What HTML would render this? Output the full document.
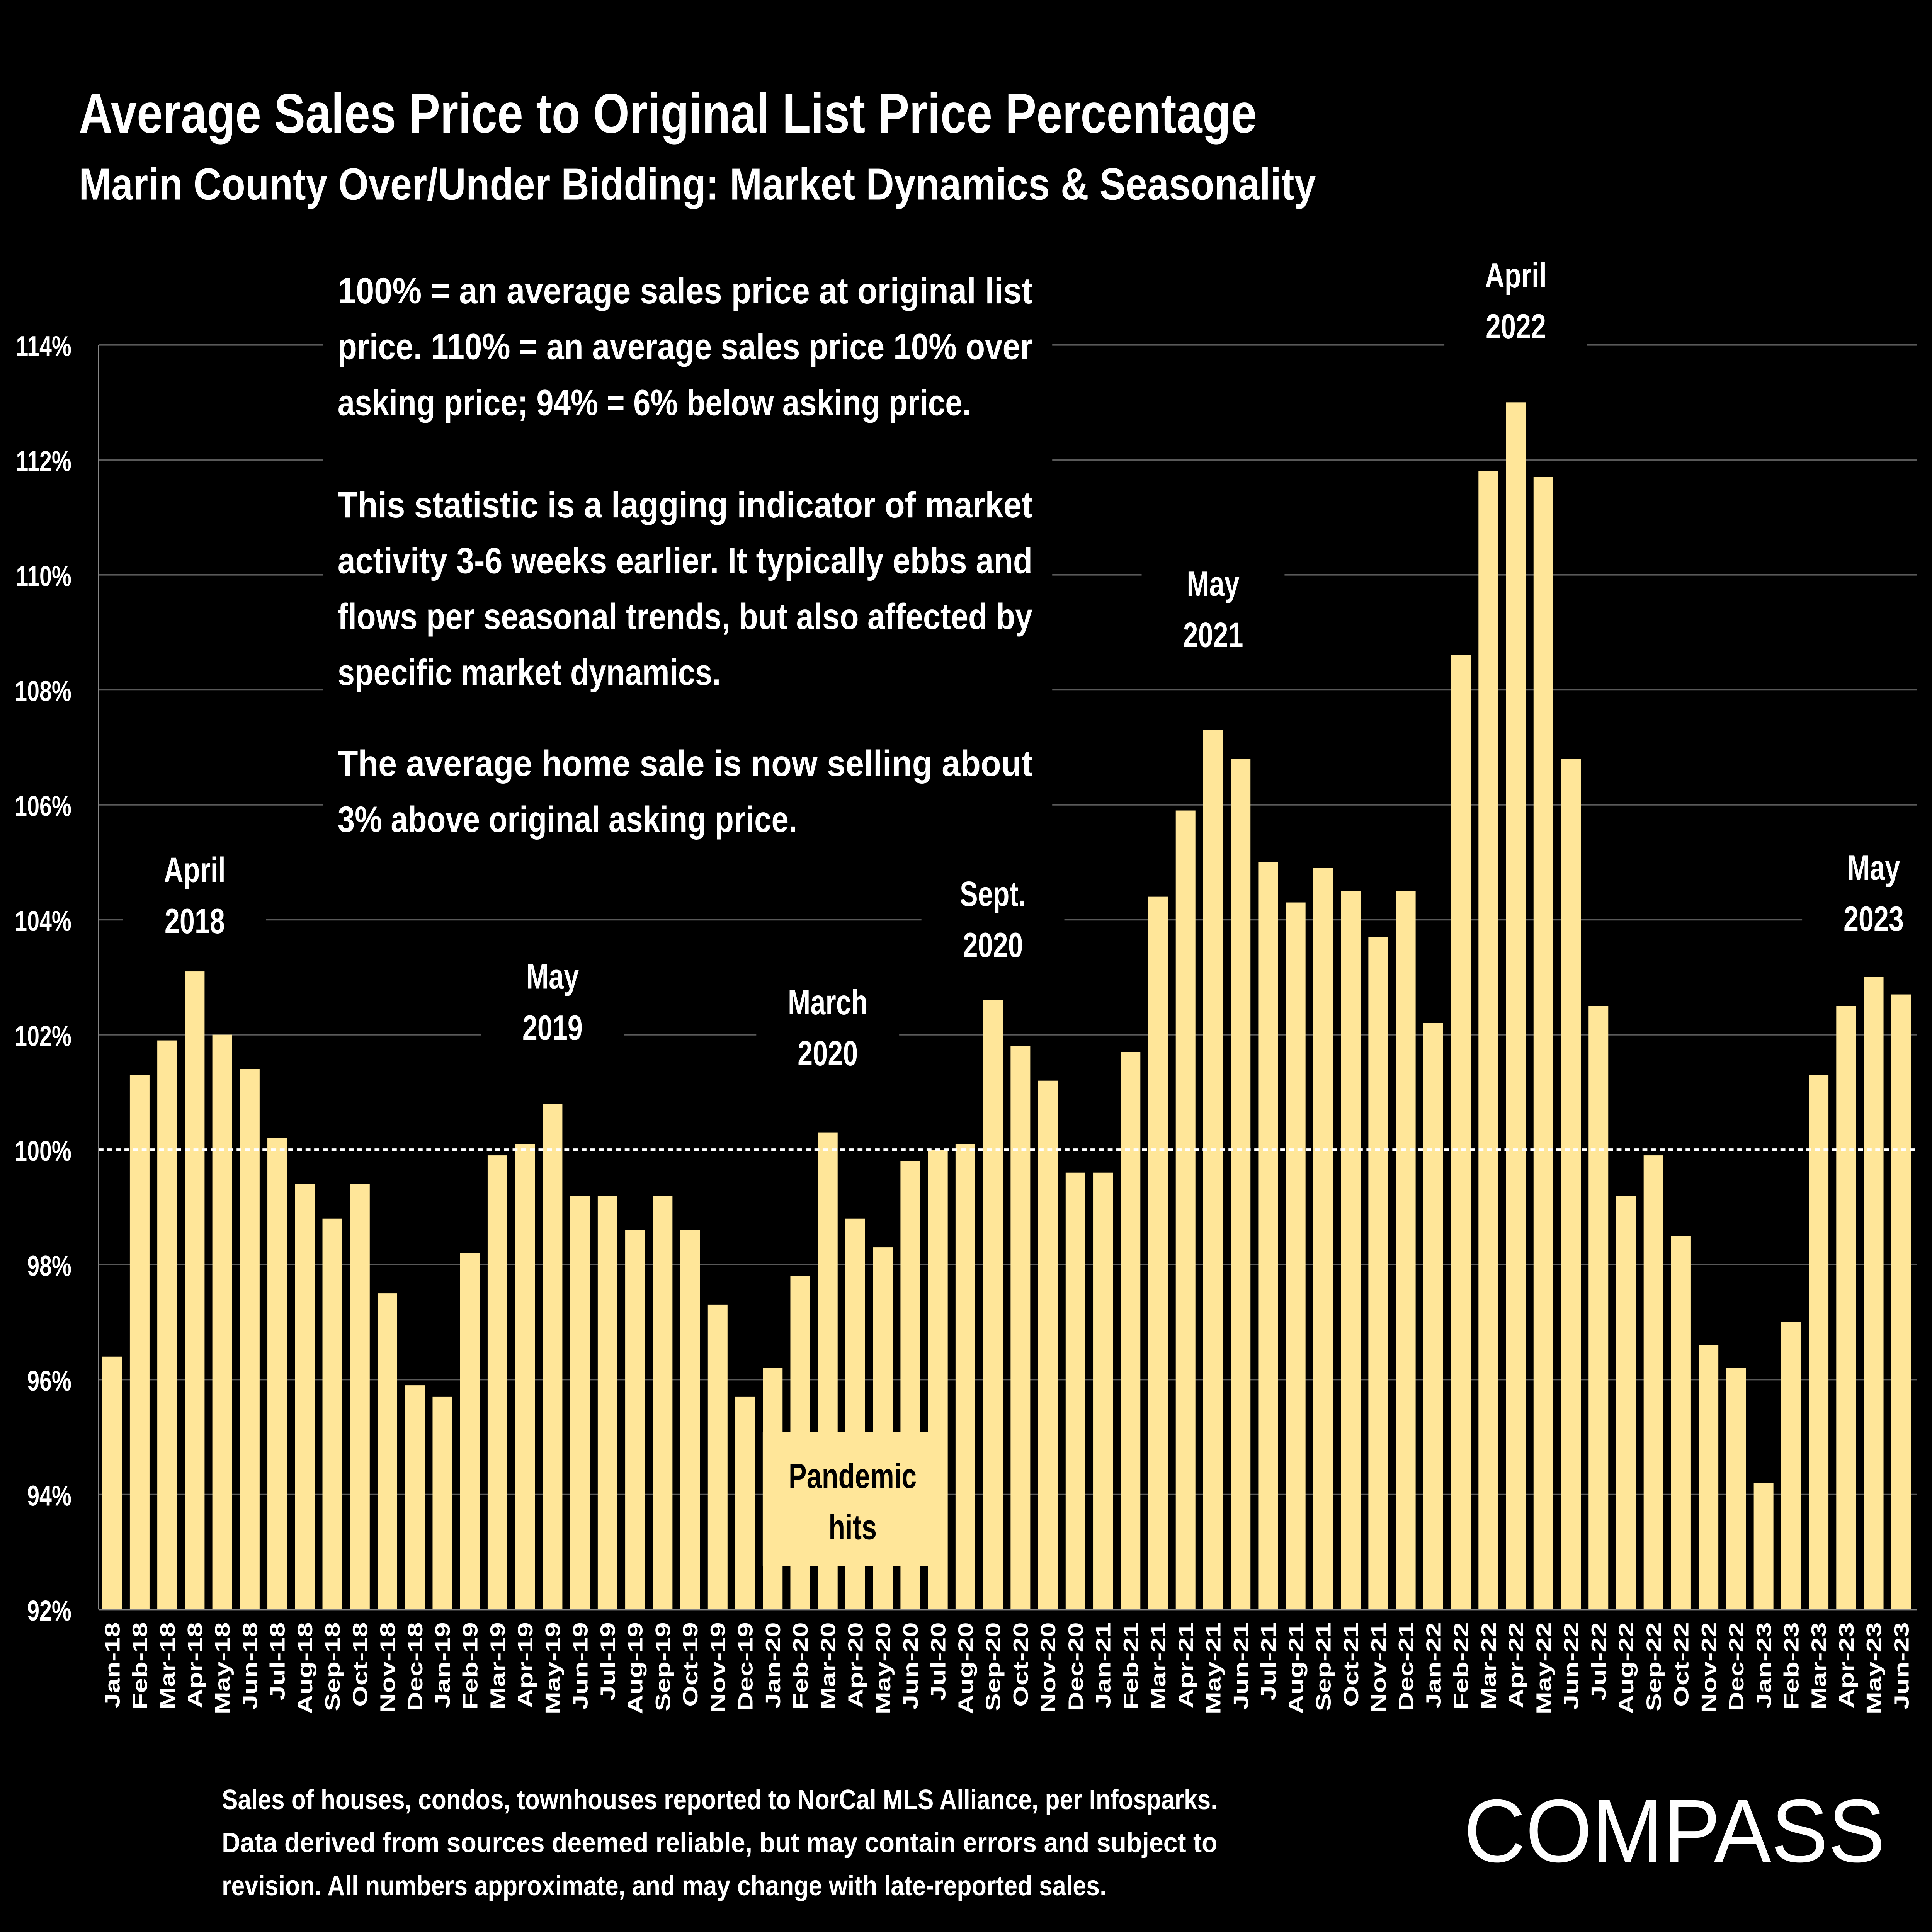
<!DOCTYPE html>
<html><head><meta charset="utf-8"><style>
html,body{margin:0;padding:0;background:#000;overflow:hidden;width:100vw;height:100vh;}
svg{display:block;width:100vw;height:100vh;}
text{font-family:"Liberation Sans",sans-serif;fill:#fff;font-weight:bold;}
</style></head><body>
<svg id="chart" viewBox="0 0 1568 1210" preserveAspectRatio="none" xmlns="http://www.w3.org/2000/svg">
<rect width="1568" height="1210" fill="#000"/>
<text x="64" y="83" font-size="35" textLength="956" lengthAdjust="spacingAndGlyphs">Average Sales Price to Original List Price Percentage</text>
<text x="64" y="125" font-size="28" textLength="1004" lengthAdjust="spacingAndGlyphs">Marin County Over/Under Bidding: Market Dynamics &amp; Seasonality</text>
<g id="grid"></g>
<g id="yaxis"></g>
<g id="bars"></g>
<g id="xaxis"></g>
<g>
<rect x="262" y="160" width="592" height="378" fill="#000"/>
<g font-size="23">
<text x="274" y="190" textLength="564" lengthAdjust="spacingAndGlyphs">100% = an average sales price at original list</text>
<text x="274" y="225" textLength="564" lengthAdjust="spacingAndGlyphs">price. 110% = an average sales price 10% over</text>
<text x="274" y="260" textLength="514" lengthAdjust="spacingAndGlyphs">asking price; 94% = 6% below asking price.</text>
<text x="274" y="324" textLength="564" lengthAdjust="spacingAndGlyphs">This statistic is a lagging indicator of market</text>
<text x="274" y="359" textLength="564" lengthAdjust="spacingAndGlyphs">activity 3-6 weeks earlier. It typically ebbs and</text>
<text x="274" y="394" textLength="564" lengthAdjust="spacingAndGlyphs">flows per seasonal trends, but also affected by</text>
<text x="274" y="429" textLength="311" lengthAdjust="spacingAndGlyphs">specific market dynamics.</text>
<text x="274" y="486" textLength="564" lengthAdjust="spacingAndGlyphs">The average home sale is now selling about</text>
<text x="274" y="521" textLength="373" lengthAdjust="spacingAndGlyphs">3% above original asking price.</text>
</g></g>
<g id="annos"></g>
<g>
<rect x="619" y="897" width="150" height="84" fill="#FFE699"/>
<text x="692" y="932" font-size="22" text-anchor="middle" style="fill:#000">Pandemic</text>
<text x="692" y="964" font-size="22" text-anchor="middle" style="fill:#000">hits</text>
</g>
<g font-size="17.5">
<text x="180" y="1133" textLength="808" lengthAdjust="spacingAndGlyphs">Sales of houses, condos, townhouses reported to NorCal MLS Alliance, per Infosparks.</text>
<text x="180" y="1160" textLength="808" lengthAdjust="spacingAndGlyphs">Data derived from sources deemed reliable, but may contain errors and subject to</text>
<text x="180" y="1187" textLength="718" lengthAdjust="spacingAndGlyphs">revision. All numbers approximate, and may change with late-reported sales.</text>
</g>
<text x="1188" y="1166" font-size="56" textLength="342" lengthAdjust="spacingAndGlyphs" style="font-weight:normal">COMPASS</text>
</svg>
<script>
const months = ["Jan","Feb","Mar","Apr","May","Jun","Jul","Aug","Sep","Oct","Nov","Dec"];
const years = ["18","19","20","21","22","23"];
const values = [96.4,101.3,101.9,103.1,102.0,101.4,100.2,99.4,98.8,99.4,97.5,95.9,
95.7,98.2,99.9,100.1,100.8,99.2,99.2,98.6,99.2,98.6,97.3,95.7,
96.2,97.8,100.3,98.8,98.3,99.8,100.0,100.1,102.6,101.8,101.2,99.6,
99.6,101.7,104.4,105.9,107.3,106.8,105.0,104.3,104.9,104.5,103.7,104.5,
102.2,108.6,111.8,113.0,111.7,106.8,102.5,99.2,99.9,98.5,96.6,96.2,
94.2,97.0,101.3,102.5,103.0,102.7];
const yTicks = [92,94,96,98,100,102,104,106,108,110,112,114];
const annoLabels = [["April","2018"],["May","2019"],["March","2020"],["Sept.","2020"],["May","2021"],["April","2022"],["May","2023"]];
const annoIndex = [3,16,26,32,40,51,64];
const annoOffsets = [32,48,50,35,60,48,37];

const NS="http://www.w3.org/2000/svg";
const categories=[];
for(let i=0;i<values.length;i++){categories.push(months[i%12]+"-"+years[Math.floor(i/12)]);}
const y0=1008, yTop=216, vMin=92, vMax=114;
function y(v){return y0-(v-vMin)/(vMax-vMin)*(y0-yTop);}
const x0=91, step=(1543-91)/65;
function x(i){return x0+i*step;}
function mk(tag,attrs,parent){const e=document.createElementNS(NS,tag);for(const k in attrs)e.setAttribute(k,attrs[k]);parent.appendChild(e);return e;}
const grid=document.getElementById('grid'), ya=document.getElementById('yaxis'), bars=document.getElementById('bars'), xa=document.getElementById('xaxis'), annos=document.getElementById('annos');
yTicks.forEach(t=>{
  if(t!==100&&t!==92){const l=mk('line',{x1:80,x2:1556,y1:y(t),y2:y(t),stroke:'#595959','stroke-width':1},grid);
  
  }
  const tx=mk('text',{x:58,y:y(t)+7,'font-size':18,'text-anchor':'end'},ya);
  tx.textContent=t+'%';
  
  
});
values.forEach((v,i)=>{
  const r=mk('rect',{x:x(i)-8,y:y(v),width:16,height:y0-y(v),fill:'#FFE699'},bars);
  
  
  const t=mk('text',{x:0,y:0,'font-size':17,'text-anchor':'end',transform:`translate(${x(i)+6},1016) rotate(-90)`},xa);
  t.textContent=categories[i];
  
  
});
const ref=mk('line',{x1:80,x2:1556,y1:y(100),y2:y(100),stroke:'#fff','stroke-width':1.5,'stroke-dasharray':'4 3'},bars);


const ax=mk('line',{x1:80,x2:1556,y1:y0,y2:y0,stroke:'#888','stroke-width':1},bars);


const axv=mk('line',{x1:80,x2:80,y1:yTop,y2:y0,stroke:'#888','stroke-width':1},bars);


annoIndex.forEach((idx,k)=>{
  const cx=x(idx), yb=y(values[idx])-annoOffsets[k];
  const g=mk('g',{},annos);
  
  
  mk('rect',{x:cx-58,y:yb-55,width:116,height:70,fill:'#000'},g);
  const a=mk('text',{x:cx,y:yb-24,'font-size':22,'text-anchor':'middle'},g); a.textContent=annoLabels[k][0];
  const b=mk('text',{x:cx,y:yb+8,'font-size':22,'text-anchor':'middle'},g); b.textContent=annoLabels[k][1];
});
</script>
</body></html>
